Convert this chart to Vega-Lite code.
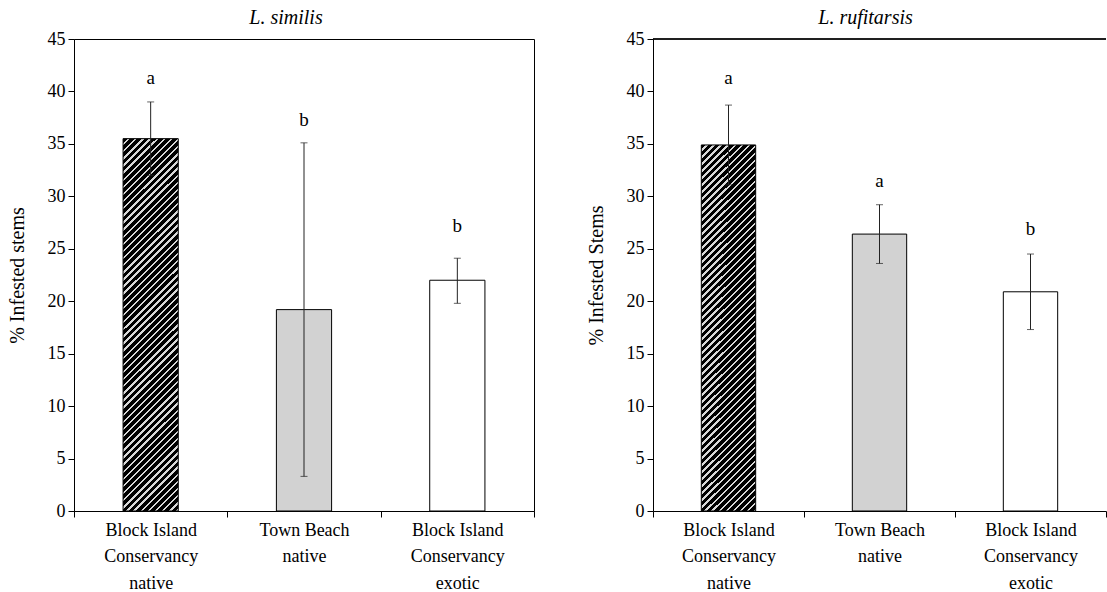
{
"$schema": "https://vega.github.io/schema/vega-lite/v6.json",
"padding": {"left": 6, "top": 7, "right": 0, "bottom": 0},
"background": "white",
"bounds": "flush",
"spacing": 119,
"datasets": {
"sim": [
{"site": "Block Island|Conservancy|native", "kind": "hatch", "mean": 35.5, "lo": 32.0, "hi": 39.0, "letter": "a", "ly": 40.7},
{"site": "Town Beach|native", "kind": "dot", "mean": 19.2, "lo": 3.3, "hi": 35.1, "letter": "b", "ly": 36.7},
{"site": "Block Island|Conservancy|exotic", "kind": "open", "mean": 22.0, "lo": 19.8, "hi": 24.1, "letter": "b", "ly": 26.6}
],
"ruf": [
{"site": "Block Island|Conservancy|native", "kind": "hatch", "mean": 34.9, "lo": 31.1, "hi": 38.7, "letter": "a", "ly": 40.7},
{"site": "Town Beach|native", "kind": "dot", "mean": 26.4, "lo": 23.6, "hi": 29.2, "letter": "a", "ly": 30.9},
{"site": "Block Island|Conservancy|exotic", "kind": "open", "mean": 20.9, "lo": 17.3, "hi": 24.5, "letter": "b", "ly": 26.3}
]
},
"hconcat": [
{
"width": 460, "height": 472,
"title": {"text": "L. similis", "dx": -18},
"data": {"name": "sim"},
"layer": [
{"transform": [{"filter": "datum.kind == 'hatch'"}], "mark": {"type": "bar", "width": {"band": 0.36}}, "encoding": {"x": {"field": "site", "type": "nominal", "title": null, "scale": {"domain": ["Block Island|Conservancy|native", "Town Beach|native", "Block Island|Conservancy|exotic"], "paddingInner": 0, "paddingOuter": 0}}, "y": {"field": "mean", "type": "quantitative", "title": "% Infested stems", "scale": {"domain": [0, 45], "nice": false}}}},
{"transform": [{"filter": "datum.kind != 'hatch'"}], "mark": {"type": "bar", "width": {"band": 0.36}}, "encoding": {"x": {"field": "site", "type": "nominal", "title": null}, "y": {"field": "mean", "type": "quantitative", "title": "% Infested stems"}, "fill": {"field": "kind", "type": "nominal", "scale": {"domain": ["dot", "open"], "range": ["#d2d2d2", "#ffffff"]}, "legend": null}}},
{"mark": {"type": "rule", "color": "#222", "strokeWidth": 1}, "encoding": {"x": {"field": "site", "type": "nominal", "title": null}, "y": {"field": "lo", "type": "quantitative", "title": "% Infested stems"}, "y2": {"field": "hi"}}},
{"mark": {"type": "tick", "orient": "horizontal", "size": 7, "thickness": 1, "color": "#222"}, "encoding": {"x": {"field": "site", "type": "nominal", "title": null}, "y": {"field": "hi", "type": "quantitative", "title": "% Infested stems"}}},
{"mark": {"type": "tick", "orient": "horizontal", "size": 7, "thickness": 1, "color": "#222"}, "encoding": {"x": {"field": "site", "type": "nominal", "title": null}, "y": {"field": "lo", "type": "quantitative", "title": "% Infested stems"}}},
{"mark": {"type": "text", "fontSize": 19, "font": "Liberation Serif", "align": "center", "baseline": "alphabetic", "color": "black"}, "encoding": {"x": {"field": "site", "type": "nominal", "title": null}, "y": {"field": "ly", "type": "quantitative", "title": "% Infested stems"}, "text": {"field": "letter"}}}
]
},
{
"width": 453, "height": 472,
"title": {"text": "L. rufitarsis", "dx": -14},
"view": {"stroke": null},
"data": {"name": "ruf"},
"layer": [
{"mark": {"type": "rule", "color": "black", "strokeWidth": 1}, "encoding": {"y": {"datum": 45, "type": "quantitative", "title": "% Infested Stems", "scale": {"domain": [0, 45], "nice": false}}}},
{"transform": [{"filter": "datum.kind == 'hatch'"}], "mark": {"type": "bar", "width": {"band": 0.36}}, "encoding": {"x": {"field": "site", "type": "nominal", "title": null, "scale": {"domain": ["Block Island|Conservancy|native", "Town Beach|native", "Block Island|Conservancy|exotic"], "paddingInner": 0, "paddingOuter": 0}}, "y": {"field": "mean", "type": "quantitative", "title": "% Infested Stems"}}},
{"transform": [{"filter": "datum.kind != 'hatch'"}], "mark": {"type": "bar", "width": {"band": 0.36}}, "encoding": {"x": {"field": "site", "type": "nominal", "title": null}, "y": {"field": "mean", "type": "quantitative", "title": "% Infested Stems"}, "fill": {"field": "kind", "type": "nominal", "scale": {"domain": ["dot", "open"], "range": ["#d2d2d2", "#ffffff"]}, "legend": null}}},
{"mark": {"type": "rule", "color": "#222", "strokeWidth": 1}, "encoding": {"x": {"field": "site", "type": "nominal", "title": null}, "y": {"field": "lo", "type": "quantitative", "title": "% Infested Stems"}, "y2": {"field": "hi"}}},
{"mark": {"type": "tick", "orient": "horizontal", "size": 7, "thickness": 1, "color": "#222"}, "encoding": {"x": {"field": "site", "type": "nominal", "title": null}, "y": {"field": "hi", "type": "quantitative", "title": "% Infested Stems"}}},
{"mark": {"type": "tick", "orient": "horizontal", "size": 7, "thickness": 1, "color": "#222"}, "encoding": {"x": {"field": "site", "type": "nominal", "title": null}, "y": {"field": "lo", "type": "quantitative", "title": "% Infested Stems"}}},
{"mark": {"type": "text", "fontSize": 19, "font": "Liberation Serif", "align": "center", "baseline": "alphabetic", "color": "black"}, "encoding": {"x": {"field": "site", "type": "nominal", "title": null}, "y": {"field": "ly", "type": "quantitative", "title": "% Infested Stems"}, "text": {"field": "letter"}}}
]
}
],
"config": {
"font": "Liberation Serif",
"view": {"stroke": "black", "strokeWidth": 1},
"title": {"font": "Liberation Serif", "fontSize": 20, "fontStyle": "italic", "fontWeight": "normal", "color": "black", "offset": 2},
"bar": {"stroke": "black", "strokeWidth": 1, "fill": {"gradient": "linear", "x1": 0, "y1": 0, "x2": 0.166, "y2": 1.123, "stops": [
{"offset":0,"color":"#000"},{"offset":0.011,"color":"#000"},{"offset":0.011,"color":"#d8d8d8"},{"offset":0.0167,"color":"#d8d8d8"},
{"offset":0.0167,"color":"#000"},{"offset":0.0277,"color":"#000"},{"offset":0.0277,"color":"#d8d8d8"},{"offset":0.0333,"color":"#d8d8d8"},
{"offset":0.0333,"color":"#000"},{"offset":0.0443,"color":"#000"},{"offset":0.0443,"color":"#d8d8d8"},{"offset":0.05,"color":"#d8d8d8"},
{"offset":0.05,"color":"#000"},{"offset":0.061,"color":"#000"},{"offset":0.061,"color":"#d8d8d8"},{"offset":0.0667,"color":"#d8d8d8"},
{"offset":0.0667,"color":"#000"},{"offset":0.0777,"color":"#000"},{"offset":0.0777,"color":"#d8d8d8"},{"offset":0.0833,"color":"#d8d8d8"},
{"offset":0.0833,"color":"#000"},{"offset":0.0943,"color":"#000"},{"offset":0.0943,"color":"#d8d8d8"},{"offset":0.1,"color":"#d8d8d8"},
{"offset":0.1,"color":"#000"},{"offset":0.111,"color":"#000"},{"offset":0.111,"color":"#d8d8d8"},{"offset":0.1167,"color":"#d8d8d8"},
{"offset":0.1167,"color":"#000"},{"offset":0.1277,"color":"#000"},{"offset":0.1277,"color":"#d8d8d8"},{"offset":0.1333,"color":"#d8d8d8"},
{"offset":0.1333,"color":"#000"},{"offset":0.1443,"color":"#000"},{"offset":0.1443,"color":"#d8d8d8"},{"offset":0.15,"color":"#d8d8d8"},
{"offset":0.15,"color":"#000"},{"offset":0.161,"color":"#000"},{"offset":0.161,"color":"#d8d8d8"},{"offset":0.1667,"color":"#d8d8d8"},
{"offset":0.1667,"color":"#000"},{"offset":0.1777,"color":"#000"},{"offset":0.1777,"color":"#d8d8d8"},{"offset":0.1833,"color":"#d8d8d8"},
{"offset":0.1833,"color":"#000"},{"offset":0.1943,"color":"#000"},{"offset":0.1943,"color":"#d8d8d8"},{"offset":0.2,"color":"#d8d8d8"},
{"offset":0.2,"color":"#000"},{"offset":0.211,"color":"#000"},{"offset":0.211,"color":"#d8d8d8"},{"offset":0.2167,"color":"#d8d8d8"},
{"offset":0.2167,"color":"#000"},{"offset":0.2277,"color":"#000"},{"offset":0.2277,"color":"#d8d8d8"},{"offset":0.2333,"color":"#d8d8d8"},
{"offset":0.2333,"color":"#000"},{"offset":0.2443,"color":"#000"},{"offset":0.2443,"color":"#d8d8d8"},{"offset":0.25,"color":"#d8d8d8"},
{"offset":0.25,"color":"#000"},{"offset":0.261,"color":"#000"},{"offset":0.261,"color":"#d8d8d8"},{"offset":0.2667,"color":"#d8d8d8"},
{"offset":0.2667,"color":"#000"},{"offset":0.2777,"color":"#000"},{"offset":0.2777,"color":"#d8d8d8"},{"offset":0.2833,"color":"#d8d8d8"},
{"offset":0.2833,"color":"#000"},{"offset":0.2943,"color":"#000"},{"offset":0.2943,"color":"#d8d8d8"},{"offset":0.3,"color":"#d8d8d8"},
{"offset":0.3,"color":"#000"},{"offset":0.311,"color":"#000"},{"offset":0.311,"color":"#d8d8d8"},{"offset":0.3167,"color":"#d8d8d8"},
{"offset":0.3167,"color":"#000"},{"offset":0.3277,"color":"#000"},{"offset":0.3277,"color":"#d8d8d8"},{"offset":0.3333,"color":"#d8d8d8"},
{"offset":0.3333,"color":"#000"},{"offset":0.3443,"color":"#000"},{"offset":0.3443,"color":"#d8d8d8"},{"offset":0.35,"color":"#d8d8d8"},
{"offset":0.35,"color":"#000"},{"offset":0.361,"color":"#000"},{"offset":0.361,"color":"#d8d8d8"},{"offset":0.3667,"color":"#d8d8d8"},
{"offset":0.3667,"color":"#000"},{"offset":0.3777,"color":"#000"},{"offset":0.3777,"color":"#d8d8d8"},{"offset":0.3833,"color":"#d8d8d8"},
{"offset":0.3833,"color":"#000"},{"offset":0.3943,"color":"#000"},{"offset":0.3943,"color":"#d8d8d8"},{"offset":0.4,"color":"#d8d8d8"},
{"offset":0.4,"color":"#000"},{"offset":0.411,"color":"#000"},{"offset":0.411,"color":"#d8d8d8"},{"offset":0.4167,"color":"#d8d8d8"},
{"offset":0.4167,"color":"#000"},{"offset":0.4277,"color":"#000"},{"offset":0.4277,"color":"#d8d8d8"},{"offset":0.4333,"color":"#d8d8d8"},
{"offset":0.4333,"color":"#000"},{"offset":0.4443,"color":"#000"},{"offset":0.4443,"color":"#d8d8d8"},{"offset":0.45,"color":"#d8d8d8"},
{"offset":0.45,"color":"#000"},{"offset":0.461,"color":"#000"},{"offset":0.461,"color":"#d8d8d8"},{"offset":0.4667,"color":"#d8d8d8"},
{"offset":0.4667,"color":"#000"},{"offset":0.4777,"color":"#000"},{"offset":0.4777,"color":"#d8d8d8"},{"offset":0.4833,"color":"#d8d8d8"},
{"offset":0.4833,"color":"#000"},{"offset":0.4943,"color":"#000"},{"offset":0.4943,"color":"#d8d8d8"},{"offset":0.5,"color":"#d8d8d8"},
{"offset":0.5,"color":"#000"},{"offset":0.511,"color":"#000"},{"offset":0.511,"color":"#d8d8d8"},{"offset":0.5167,"color":"#d8d8d8"},
{"offset":0.5167,"color":"#000"},{"offset":0.5277,"color":"#000"},{"offset":0.5277,"color":"#d8d8d8"},{"offset":0.5333,"color":"#d8d8d8"},
{"offset":0.5333,"color":"#000"},{"offset":0.5443,"color":"#000"},{"offset":0.5443,"color":"#d8d8d8"},{"offset":0.55,"color":"#d8d8d8"},
{"offset":0.55,"color":"#000"},{"offset":0.561,"color":"#000"},{"offset":0.561,"color":"#d8d8d8"},{"offset":0.5667,"color":"#d8d8d8"},
{"offset":0.5667,"color":"#000"},{"offset":0.5777,"color":"#000"},{"offset":0.5777,"color":"#d8d8d8"},{"offset":0.5833,"color":"#d8d8d8"},
{"offset":0.5833,"color":"#000"},{"offset":0.5943,"color":"#000"},{"offset":0.5943,"color":"#d8d8d8"},{"offset":0.6,"color":"#d8d8d8"},
{"offset":0.6,"color":"#000"},{"offset":0.611,"color":"#000"},{"offset":0.611,"color":"#d8d8d8"},{"offset":0.6167,"color":"#d8d8d8"},
{"offset":0.6167,"color":"#000"},{"offset":0.6277,"color":"#000"},{"offset":0.6277,"color":"#d8d8d8"},{"offset":0.6333,"color":"#d8d8d8"},
{"offset":0.6333,"color":"#000"},{"offset":0.6443,"color":"#000"},{"offset":0.6443,"color":"#d8d8d8"},{"offset":0.65,"color":"#d8d8d8"},
{"offset":0.65,"color":"#000"},{"offset":0.661,"color":"#000"},{"offset":0.661,"color":"#d8d8d8"},{"offset":0.6667,"color":"#d8d8d8"},
{"offset":0.6667,"color":"#000"},{"offset":0.6777,"color":"#000"},{"offset":0.6777,"color":"#d8d8d8"},{"offset":0.6833,"color":"#d8d8d8"},
{"offset":0.6833,"color":"#000"},{"offset":0.6943,"color":"#000"},{"offset":0.6943,"color":"#d8d8d8"},{"offset":0.7,"color":"#d8d8d8"},
{"offset":0.7,"color":"#000"},{"offset":0.711,"color":"#000"},{"offset":0.711,"color":"#d8d8d8"},{"offset":0.7167,"color":"#d8d8d8"},
{"offset":0.7167,"color":"#000"},{"offset":0.7277,"color":"#000"},{"offset":0.7277,"color":"#d8d8d8"},{"offset":0.7333,"color":"#d8d8d8"},
{"offset":0.7333,"color":"#000"},{"offset":0.7443,"color":"#000"},{"offset":0.7443,"color":"#d8d8d8"},{"offset":0.75,"color":"#d8d8d8"},
{"offset":0.75,"color":"#000"},{"offset":0.761,"color":"#000"},{"offset":0.761,"color":"#d8d8d8"},{"offset":0.7667,"color":"#d8d8d8"},
{"offset":0.7667,"color":"#000"},{"offset":0.7777,"color":"#000"},{"offset":0.7777,"color":"#d8d8d8"},{"offset":0.7833,"color":"#d8d8d8"},
{"offset":0.7833,"color":"#000"},{"offset":0.7943,"color":"#000"},{"offset":0.7943,"color":"#d8d8d8"},{"offset":0.8,"color":"#d8d8d8"},
{"offset":0.8,"color":"#000"},{"offset":0.811,"color":"#000"},{"offset":0.811,"color":"#d8d8d8"},{"offset":0.8167,"color":"#d8d8d8"},
{"offset":0.8167,"color":"#000"},{"offset":0.8277,"color":"#000"},{"offset":0.8277,"color":"#d8d8d8"},{"offset":0.8333,"color":"#d8d8d8"},
{"offset":0.8333,"color":"#000"},{"offset":0.8443,"color":"#000"},{"offset":0.8443,"color":"#d8d8d8"},{"offset":0.85,"color":"#d8d8d8"},
{"offset":0.85,"color":"#000"},{"offset":0.861,"color":"#000"},{"offset":0.861,"color":"#d8d8d8"},{"offset":0.8667,"color":"#d8d8d8"},
{"offset":0.8667,"color":"#000"},{"offset":0.8777,"color":"#000"},{"offset":0.8777,"color":"#d8d8d8"},{"offset":0.8833,"color":"#d8d8d8"},
{"offset":0.8833,"color":"#000"},{"offset":0.8943,"color":"#000"},{"offset":0.8943,"color":"#d8d8d8"},{"offset":0.9,"color":"#d8d8d8"},
{"offset":0.9,"color":"#000"},{"offset":0.911,"color":"#000"},{"offset":0.911,"color":"#d8d8d8"},{"offset":0.9167,"color":"#d8d8d8"},
{"offset":0.9167,"color":"#000"},{"offset":0.9277,"color":"#000"},{"offset":0.9277,"color":"#d8d8d8"},{"offset":0.9333,"color":"#d8d8d8"},
{"offset":0.9333,"color":"#000"},{"offset":0.9443,"color":"#000"},{"offset":0.9443,"color":"#d8d8d8"},{"offset":0.95,"color":"#d8d8d8"},
{"offset":0.95,"color":"#000"},{"offset":0.961,"color":"#000"},{"offset":0.961,"color":"#d8d8d8"},{"offset":0.9667,"color":"#d8d8d8"},
{"offset":0.9667,"color":"#000"},{"offset":0.9777,"color":"#000"},{"offset":0.9777,"color":"#d8d8d8"},{"offset":0.9833,"color":"#d8d8d8"},
{"offset":0.9833,"color":"#000"},{"offset":0.9943,"color":"#000"},{"offset":0.9943,"color":"#d8d8d8"},{"offset":1,"color":"#d8d8d8"}
]}},
"axis": {"domainColor": "black", "tickColor": "black", "tickSize": 6, "labelColor": "black", "labelFont": "Liberation Serif", "labelFontSize": 18, "titleFont": "Liberation Serif", "titleFontSize": 20, "titleFontWeight": "normal", "titleColor": "black", "grid": false},
"axisY": {"values": [0, 5, 10, 15, 20, 25, 30, 35, 40, 45], "labelPadding": 3, "titlePadding": 20},
"axisX": {"tickBand": "extent", "labelAngle": 0, "labelLineHeight": 26.5, "labelPadding": 4, "labelExpr": "split(datum.label, '|')"}
}
}
